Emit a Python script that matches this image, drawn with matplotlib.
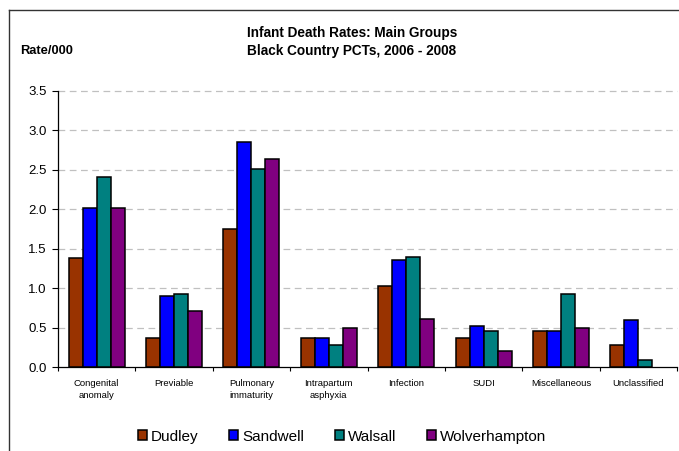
import numpy as np
import matplotlib
matplotlib.use("Agg")
import matplotlib.pyplot as plt
from matplotlib.lines import Line2D

plt.rcParams['font.family'] = ['Liberation Sans', 'DejaVu Sans']

groups = ["Congenital\nanomaly", "Previable", "Pulmonary\nimmaturity", "Intrapartum\nasphyxia",
          "Infection", "SUDI", "Miscellaneous", "Unclassified"]
dudley = [1.38, 0.37, 1.75, 0.37, 1.02, 0.37, 0.46, 0.28]
sandwell = [2.02, 0.90, 2.85, 0.37, 1.35, 0.52, 0.45, 0.60]
walsall = [2.41, 0.93, 2.51, 0.28, 1.39, 0.46, 0.93, 0.09]
wolverhampton = [2.02, 0.71, 2.63, 0.50, 0.61, 0.20, 0.50, 0.00]
series = [("Dudley", dudley, "#993300"), ("Sandwell", sandwell, "#0000ff"),
          ("Walsall", walsall, "#008080"), ("Wolverhampton", wolverhampton, "#800080")]

W, H = 679, 451
fig = plt.figure(figsize=(W / 100, H / 100), dpi=100)
ax = fig.add_axes([58 / W, 1 - 367 / H, (677 - 58) / W, (367 - 90.7) / H])

x = np.arange(len(groups))
w = 0.181
for j, (name, vals, col) in enumerate(series):
    vals = np.array(vals)
    # zero-rate bars are not drawn at all in the original
    lws = [1.1 if v > 0 else 0 for v in vals]
    ax.bar(x + (j - 1.5) * w, vals, width=w, color=col, edgecolor="black",
           linewidth=lws, label=name, zorder=3)

ax.set_xlim(-0.5, len(groups) - 0.5)
ax.set_ylim(0, 3.5)
ax.set_yticks(np.arange(0, 3.51, 0.5))
ax.set_yticklabels([f"{v:.1f}" for v in np.arange(0, 3.51, 0.5)], fontsize=9.5)
ax.set_xticks(x)
ax.set_xticklabels(groups, fontsize=6.8, linespacing=1.35)
ax.set_xticks(np.arange(-0.5, len(groups), 1), minor=True)
ax.tick_params(axis="x", which="major", length=0, pad=9)
ax.tick_params(axis="x", which="minor", length=3, direction="out", width=0.8)
ax.tick_params(axis="y", length=4, width=0.8, direction="out", pad=4)

for v in np.arange(0.5, 3.51, 0.5):
    ax.axhline(v, color="#c0c0c0", lw=0.9, linestyle=(0, (5.4, 3.6)), zorder=1, clip_on=False)

for s in ["top", "right"]:
    ax.spines[s].set_visible(False)
ax.spines["left"].set_linewidth(0.9)
ax.spines["bottom"].set_linewidth(0.9)

fig.text(352 / W, 1 - 33 / H, "Infant Death Rates: Main Groups", ha="center", va="center",
         fontsize=9.8, fontweight="bold")
fig.text(352 / W, 1 - 51.5 / H, "Black Country PCTs, 2006 - 2008", ha="center", va="center",
         fontsize=9.8, fontweight="bold")
fig.text(20.5 / W, 1 - 51.5 / H, "Rate/000", ha="left", va="center", fontsize=9.3, fontweight="bold")

leg = fig.legend(loc="center", bbox_to_anchor=(342 / W, 1 - 436.7 / H), ncol=4, frameon=False,
                 fontsize=11, handlelength=0.6, handleheight=0.6, handletextpad=0.25,
                 columnspacing=2.0, borderaxespad=0)
for h in leg.legend_handles:
    h.set_linewidth(1.1)

# outer frame (only left and top edges visible)
fig.add_artist(Line2D([8.5 / W, 8.5 / W], [0, 1 - 9.5 / H], color="#333333", lw=1.0))
fig.add_artist(Line2D([8.5 / W, 1], [1 - 9.5 / H, 1 - 9.5 / H], color="#333333", lw=1.0))

fig.savefig("out.png", dpi=100)
